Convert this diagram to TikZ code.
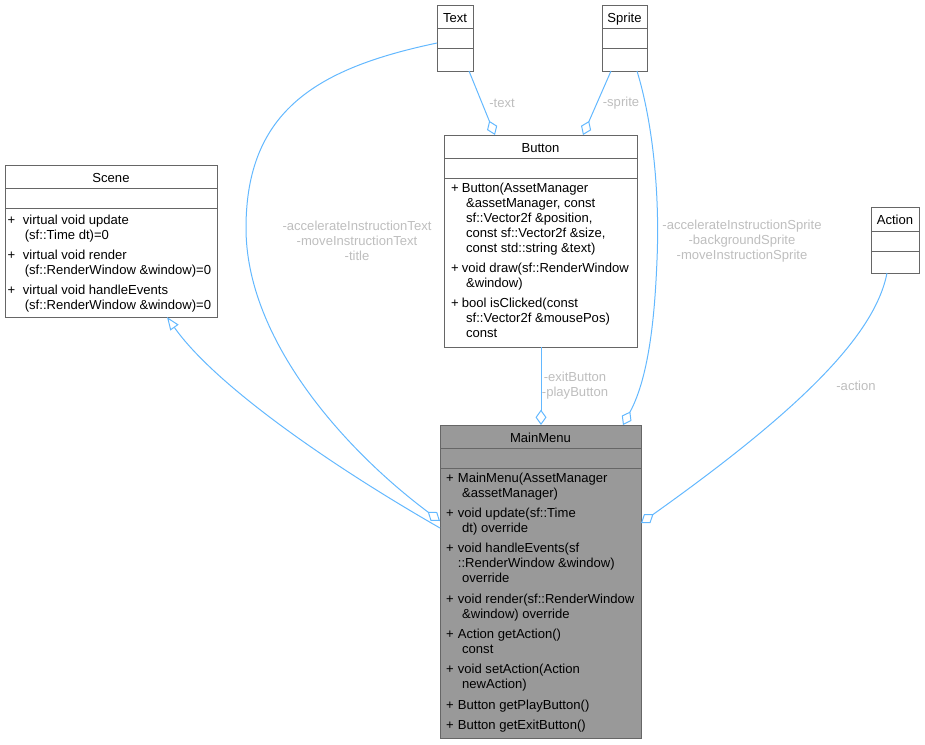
\documentclass[tikz,border=0pt]{standalone}
\usepackage{fontspec}
\setmainfont{Liberation Sans}
\usetikzlibrary{arrows.meta,calc}
\definecolor{edgeblue}{HTML}{63B8FF}
\definecolor{boxgray}{HTML}{666666}
\definecolor{labelgray}{HTML}{BEBEBE}
\definecolor{mmfill}{HTML}{999999}
\begin{document}
\begin{tikzpicture}[x=0.75pt,y=-0.75pt,
  every node/.style={font=\fontsize{9.8pt}{11.25pt}\selectfont, inner sep=0pt, outer sep=0pt},
  classbox/.style={draw=boxgray, line width=0.75pt, fill=white, anchor=north west},
  divider/.style={draw=boxgray, line width=0.75pt},
  title/.style={anchor=base},
  members/.style={anchor=base west},
  edgelabel/.style={text=labelgray, align=center},
  conn/.style={draw=edgeblue, line width=0.75pt},
  agg/.style={conn, -{Diamond[open, length=11.5pt, width=8.25pt]}},
  inherit/.style={conn, -{Triangle[open, length=9.75pt, width=7.5pt]}},
]
\useasboundingbox (0,0) rectangle (925,744);

% ---------- Scene ----------
\node[classbox, minimum width=159pt, minimum height=114pt] (scene) at (5,165) {};
\draw[divider] (5,188) -- (217,188);
\draw[divider] (5,208) -- (217,208);
\node[title] (scenet) at (111,182) {Scene};
\node[members] (scenem) at (7.5,224) {\begin{tabular}[t]{@{}l@{\hspace{5.8pt}}l@{}}
+ & virtual void update\\
  & \hspace{1.5pt}(sf::Time dt)=0\\[4pt]
+ & virtual void render\\
  & \hspace{1.5pt}(sf::RenderWindow \&window)=0\\[4pt]
+ & virtual void handleEvents\\
  & \hspace{1.5pt}(sf::RenderWindow \&window)=0
\end{tabular}};

% ---------- Text ----------
\node[classbox, minimum width=27pt, minimum height=49.5pt] (text) at (437,5) {};
\draw[divider] (437,28) -- (473,28);
\draw[divider] (437,48) -- (473,48);
\node[title] (textt) at (455,22) {Text};

% ---------- Sprite ----------
\node[classbox, minimum width=33.75pt, minimum height=49.5pt] (sprite) at (602,5) {};
\draw[divider] (602,28) -- (647,28);
\draw[divider] (602,48) -- (647,48);
\node[title] (spritet) at (624.5,22) {Sprite};

% ---------- Action ----------
\node[classbox, minimum width=36pt, minimum height=49.5pt] (action) at (871,207) {};
\draw[divider] (871,231) -- (919,231);
\draw[divider] (871,251) -- (919,251);
\node[title] (actiont) at (895,224) {Action};

% ---------- Button ----------
\node[classbox, minimum width=144.75pt, minimum height=159pt] (button) at (444,135) {};
\draw[divider] (444,158) -- (637,158);
\draw[divider] (444,178) -- (637,178);
\node[title] (buttont) at (540.5,152) {Button};
\node[members] (buttonm) at (451,192) {\begin{tabular}[t]{@{}l@{\hspace{2.4pt}}l@{}}
+ & Button(AssetManager\\
  & \hspace{3.2pt}\&assetManager, const\\
  & \hspace{3.2pt}sf::Vector2f \&position,\\
  & \hspace{3.2pt}const sf::Vector2f \&size,\\
  & \hspace{3.2pt}const std::string \&text)\\[4pt]
+ & void draw(sf::RenderWindow\\
  & \hspace{3.2pt}\&window)\\[4pt]
+ & bool isClicked(const\\
  & \hspace{3.2pt}sf::Vector2f \&mousePos)\\
  & \hspace{3.2pt}const
\end{tabular}};

% ---------- MainMenu ----------
\node[classbox, fill=mmfill, minimum width=150.75pt, minimum height=234.75pt] (mainmenu) at (440,425) {};
\draw[divider] (440,448) -- (641,448);
\draw[divider] (440,468) -- (641,468);
\node[title] (mainmenut) at (540.5,442) {MainMenu};
\node[members] (mainmenum) at (446,482) {\begin{tabular}[t]{@{}l@{\hspace{3.2pt}}l@{}}
+ & MainMenu(AssetManager\\
  & \hspace{3.2pt}\&assetManager)\\[4pt]
+ & void update(sf::Time\\
  & \hspace{3.2pt}dt) override\\[4pt]
+ & void handleEvents(sf\\
  & ::RenderWindow \&window)\\
  & \hspace{3.2pt}override\\[4pt]
+ & void render(sf::RenderWindow\\
  & \hspace{3.2pt}\&window) override\\[4pt]
+ & Action getAction()\\
  & \hspace{3.2pt}const\\[4pt]
+ & void setAction(Action\\
  & \hspace{3.2pt}newAction)\\[4pt]
+ & Button getPlayButton()\\[4pt]
+ & Button getExitButton()
\end{tabular}};

% ---------- Connectors ----------
\draw[agg] ($(text.south west)+(32,0)$) -- ($(button.north west)+(51,0)$);
\draw[agg] ($(sprite.south west)+(9,0)$) -- ($(button.north west)+(139,0)$);
\draw[agg] ($(button.south west)+(97,0)$) -- ($(mainmenu.north west)+(101,0)$);
\draw[agg] ($(sprite.south west)+(35,0)$) .. controls (652,120) and (660,190) .. (657,260)
  .. controls (655,310) and (650,375) .. ($(mainmenu.north west)+(183,0)$);
\draw[agg] ($(action.south west)+(16,0)$) .. controls (875,335) and (800,410) .. ($(mainmenu.north east)+(0,98)$);
\draw[agg] ($(text.north west)+(0,38)$) .. controls (318,68) and (246,110) .. (246,228)
  .. controls (246,340) and (345,450) .. ($(mainmenu.north west)+(0,96)$);
\draw[inherit] ($(mainmenu.north west)+(0,103)$) .. controls (330,465) and (215,385) .. ($(scene.south west)+(162,0)$);

% ---------- Labels ----------
\node[edgelabel] (ltext) at (502,103) {-text};
\node[edgelabel] (lsprite) at (621,103) {-sprite};
\node[edgelabel] (lbutton) at (575,385.5) {-exitButton\\-playButton};
\node[edgelabel] (lsprites) at (742,241) {-accelerateInstructionSprite\\-backgroundSprite\\-moveInstructionSprite};
\node[edgelabel] (ltexts) at (357,241) {-accelerateInstructionText\\-moveInstructionText\\-title};
\node[edgelabel] (laction) at (856,386) {-action};
\end{tikzpicture}
\end{document}
